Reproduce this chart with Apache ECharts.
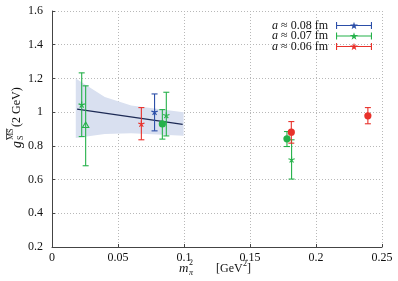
<!DOCTYPE html>
<html><head><meta charset="utf-8">
<script src="https://cdn.jsdelivr.net/npm/echarts@6/dist/echarts.min.js"></script>
<style>html,body{margin:0;padding:0;background:#fff}#c{width:398px;height:281px}</style>
</head><body><div id="c"></div>
<script>
// ---- data ----
const legendNames = ['a ≈ 0.08 fm', 'a ≈ 0.07 fm', 'a ≈ 0.06 fm'];
// a ≈ 0.08 fm (blue)
const blueX  = [0.0777];
const blueY  = [1.000];
const blueLo = [0.889];
const blueHi = [1.108];
const blueMk = ['star'];
// a ≈ 0.07 fm (green)
const greenX  = [0.0225, 0.0255, 0.0836, 0.0866, 0.178, 0.1815];
const greenY  = [1.043, 0.920, 0.930, 0.980, 0.842, 0.717];
const greenLo = [0.855, 0.682, 0.840, 0.859, 0.796, 0.603];
const greenHi = [1.233, 1.156, 1.015, 1.118, 0.885, 0.836];
const greenMk = ['star', 'triangle', 'circle', 'star', 'circle', 'star'];
// a ≈ 0.06 fm (red)
const redX  = [0.0677, 0.1813, 0.2393];
const redY  = [0.929, 0.881, 0.978];
const redLo = [0.836, 0.816, 0.931];
const redHi = [1.027, 0.944, 1.027];
const redMk = ['star', 'circle', 'circle'];
// chiral fit line and error band
const fitX = [0.019, 0.099];
const fitY = [1.018, 0.928];
const bandX  = [0.018, 0.040, 0.060, 0.0997];
const bandHi = [1.200, 1.090, 1.040, 1.000];
const bandLo = [0.846, 0.870, 0.875, 0.860];
// axes
const xMin = 0, xMax = 0.25, xStep = 0.05;
const yMin = 0.2, yMax = 1.6, yStep = 0.2;

const SERIF = 'Liberation Serif';
const COLORS = ['#2b4ea8', '#25b14a', '#e8312a'];

function zip(xs, ys, lo, hi) { return xs.map((x, i) => [x, ys[i], lo[i], hi[i]]); }

function errSeries(name, color, xs, ys, lo, hi, marks) {
  return {
    name: name, type: 'custom', color: color, itemStyle: {color: color},
    z: 5,
    data: zip(xs, ys, lo, hi),
    encode: {x: 0, y: 1},
    renderItem: function (params, api) {
      const p = api.coord([api.value(0), api.value(1)]);
      const pl = api.coord([api.value(0), api.value(2)]);
      const ph = api.coord([api.value(0), api.value(3)]);
      const st = {stroke: color, lineWidth: 1.1, fill: null};
      const cw = 3;
      const ch = [
        {type: 'line', shape: {x1: pl[0], y1: pl[1], x2: ph[0], y2: ph[1]}, style: st},
        {type: 'line', shape: {x1: pl[0] - cw, y1: pl[1], x2: pl[0] + cw, y2: pl[1]}, style: st},
        {type: 'line', shape: {x1: ph[0] - cw, y1: ph[1], x2: ph[0] + cw, y2: ph[1]}, style: st}
      ];
      const m = marks[params.dataIndex];
      if (m === 'circle') {
        ch.push({type: 'circle', shape: {cx: p[0], cy: p[1], r: 3.6}, style: {fill: color}});
      } else if (m === 'triangle') {
        const r = 3.6;
        ch.push({type: 'polygon', shape: {points: [[p[0], p[1] - r], [p[0] + r * 0.87, p[1] + r * 0.5], [p[0] - r * 0.87, p[1] + r * 0.5]]},
          style: {fill: 'rgba(255,255,255,0)', stroke: color, lineWidth: 1.1}});
      } else {
        const r = 3.3;
        for (let k = 0; k < 5; k++) {
          const a = -Math.PI / 2 + k * 2 * Math.PI / 5;
          ch.push({type: 'line', shape: {x1: p[0], y1: p[1], x2: p[0] + r * Math.cos(a), y2: p[1] + r * Math.sin(a)}, style: {stroke: color, lineWidth: 1.1}});
        }
      }
      return {type: 'group', children: ch};
    }
  };
}

const legendIcon = 'path://M0,4.45H36V5.55H0Z M0,1.6H1.1V8.4H0Z M34.9,1.6H36V8.4H34.9Z ' +
  'M18,1.2L18.9,4.1L21.9,4.1L19.5,5.9L20.4,8.8L18,7L15.6,8.8L16.5,5.9L14.1,4.1L17.1,4.1Z';

const chart = echarts.init(document.getElementById('c'), null, {renderer: 'canvas'});
const axisLbl = {fontFamily: SERIF, fontSize: 12, color: '#111'};
chart.setOption({
  animation: false,
  color: COLORS,
  grid: {left: 52, right: 16, top: 11, bottom: 34},
  xAxis: {
    type: 'value', min: xMin, max: xMax, interval: xStep,
    axisLine: {show: true, onZero: false, lineStyle: {color: '#444', width: 1}},
    axisTick: {show: true, inside: true, length: 3, lineStyle: {color: '#444'}},
    axisLabel: Object.assign({margin: 5}, axisLbl),
    splitLine: {show: true, lineStyle: {color: '#b8b8b8', type: [1, 2], width: 1}}
  },
  yAxis: {
    type: 'value', min: yMin, max: yMax, interval: yStep,
    axisLine: {show: true, onZero: false, lineStyle: {color: '#444', width: 1}},
    axisTick: {show: true, inside: true, length: 3, lineStyle: {color: '#444'}},
    axisLabel: Object.assign({margin: 9}, axisLbl),
    splitLine: {show: true, lineStyle: {color: '#b8b8b8', type: [1, 2], width: 1}}
  },
  legend: {
    orient: 'vertical', right: 26, top: 19.5, align: 'right', padding: 0,
    itemWidth: 36, itemHeight: 10, itemGap: -1.5,
    data: legendNames.map(n => ({name: n, icon: legendIcon})),
    formatter: n => n.replace(/^a/, '{i|a}'),
    textStyle: {fontFamily: SERIF, fontSize: 12, color: '#111', lineHeight: 10, padding: [0, 3, 0, 0],
      rich: {i: {fontFamily: SERIF, fontSize: 12, fontStyle: 'italic', color: '#111', lineHeight: 10}}}
  },
  series: [
    {
      type: 'custom', name: 'band', silent: true, z: 1,
      data: bandX.map((x, i) => [x, bandLo[i], bandHi[i]]),
      encode: {x: 0, y: [1, 2]},
      renderItem: function (params, api) {
        if (params.dataIndex !== 0) return null;
        const pts = [];
        for (let i = 0; i < bandX.length; i++) pts.push(api.coord([bandX[i], bandHi[i]]));
        for (let i = bandX.length - 1; i >= 0; i--) pts.push(api.coord([bandX[i], bandLo[i]]));
        return {type: 'polygon', shape: {points: pts}, style: {fill: '#d9e0f0'}};
      }
    },
    {
      type: 'line', name: 'fit', silent: true, z: 3, symbol: 'none',
      data: fitX.map((x, i) => [x, fitY[i]]),
      lineStyle: {color: '#1d2a55', width: 1.3}
    },
    errSeries(legendNames[0], COLORS[0], blueX, blueY, blueLo, blueHi, blueMk),
    errSeries(legendNames[1], COLORS[1], greenX, greenY, greenLo, greenHi, greenMk),
    errSeries(legendNames[2], COLORS[2], redX, redY, redLo, redHi, redMk)
  ],
  graphic: [
    // y axis title: g_S^{MS-bar}(2 GeV), rotated
    {type: 'group', x: 17, y: 148, rotation: Math.PI / 2, silent: true, children: [
      {type: 'text', x: 0, y: 0, style: {text: 'g', fontFamily: SERIF, fontSize: 14, fontStyle: 'italic', fill: '#111', verticalAlign: 'middle', align: 'left'}},
      {type: 'text', x: 8, y: 4, style: {text: 'S', fontFamily: SERIF, fontSize: 8, fill: '#111', verticalAlign: 'middle', align: 'left'}},
      {type: 'text', x: 8, y: -6, style: {text: 'MS', fontFamily: SERIF, fontSize: 8, fill: '#111', verticalAlign: 'middle', align: 'left'}},
      {type: 'line', shape: {x1: 8, y1: -10.5, x2: 19.5, y2: -10.5}, style: {stroke: '#111', lineWidth: 0.7}},
      {type: 'text', x: 21, y: 0, style: {text: '(2 GeV)', fontFamily: SERIF, fontSize: 12, fill: '#111', verticalAlign: 'middle', align: 'left'}}
    ]},
    // x axis title: m_pi^2 [GeV^2]
    {type: 'text', x: 179, y: 269, silent: true, style: {text: 'm', fontFamily: SERIF, fontSize: 13, fontStyle: 'italic', fill: '#111', verticalAlign: 'middle'}},
    {type: 'text', x: 189, y: 273, silent: true, style: {text: 'π', fontFamily: SERIF, fontSize: 8, fontStyle: 'italic', fill: '#111', verticalAlign: 'middle'}},
    {type: 'text', x: 189, y: 263, silent: true, style: {text: '2', fontFamily: SERIF, fontSize: 8, fill: '#111', verticalAlign: 'middle'}},
    {type: 'text', x: 216, y: 269, silent: true, style: {text: '[GeV', fontFamily: SERIF, fontSize: 12, fill: '#111', verticalAlign: 'middle'}},
    {type: 'text', x: 243, y: 264, silent: true, style: {text: '2', fontFamily: SERIF, fontSize: 8, fill: '#111', verticalAlign: 'middle'}},
    {type: 'text', x: 247, y: 269, silent: true, style: {text: ']', fontFamily: SERIF, fontSize: 12, fill: '#111', verticalAlign: 'middle'}}
  ]
});
</script>
</body></html>
